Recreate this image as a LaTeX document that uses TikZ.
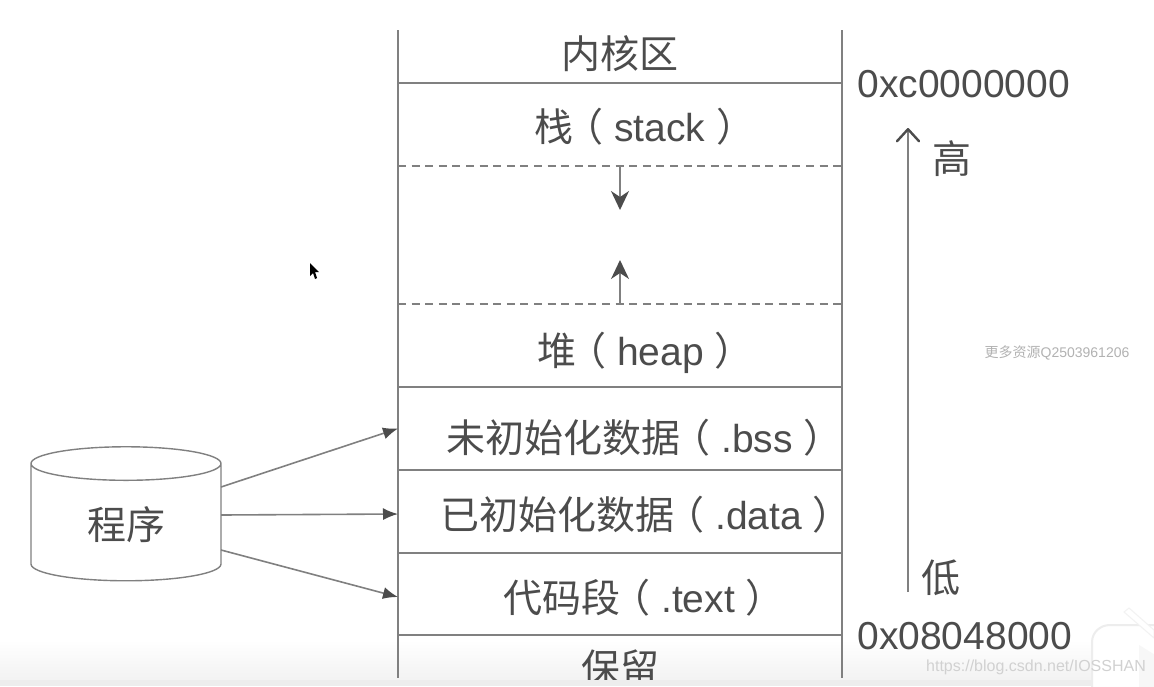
\documentclass[tikz,border=0pt]{standalone}
\usepackage{fontspec}
\setmainfont{Liberation Sans}
\newfontfamily\cjk{Noto Sans CJK SC}
\usetikzlibrary{arrows.meta,positioning,shapes.geometric}
\definecolor{ink}{HTML}{4C4C4C}
\definecolor{rule}{HTML}{808080}
\newcommand{\bigtxt}{\fontsize{19.5pt}{21pt}\selectfont}
\newcommand{\lpar}{\kern-4.5pt{\cjk （}}
\newcommand{\rpar}{{\cjk ）}}

\begin{document}
\begin{tikzpicture}[
  x=0.5pt, y=-0.5pt,
  font=\bigtxt,
  text=ink,
  seg/.style={
    minimum width=222pt,
    inner sep=0pt,
    outer sep=0pt
  },
  txt/.style={inner sep=0pt, text=ink},
  lefttxt/.style={txt, anchor=west},
  wall/.style={draw=rule, line width=0.8pt},
  gapline/.style={wall, dash pattern=on 4pt off 2.8pt},
  growth/.style={wall, -{Stealth[length=9.5pt, width=9pt, inset=3pt, color=ink]}},
  feed/.style={wall, -{Latex[length=7.5pt, width=6pt, color=ink]}},
  mainarrow/.style={wall, -{Straight Barb[length=6pt, width=11pt, line width=1.2pt, color=ink, round]}}
]
  \useasboundingbox (0,0) rectangle (1154,686);
  \fill[white] (0,0) rectangle (1154,686);
  \shade[top color=white, bottom color=black!5] (0,640) rectangle (1154,680);

  % memory layers
  \node[seg, minimum height=26.5pt] (kernel) at (620,56.5) {};
  \node[seg, minimum height=41.5pt, below=0pt of kernel] (stack) {};
  \node[seg, minimum height=69pt, below=0pt of stack] (gap) {};
  \node[seg, minimum height=41.5pt, below=0pt of gap] (heap) {};
  \node[seg, minimum height=41.5pt, below=0pt of heap] (bss) {};
  \node[seg, minimum height=41.5pt, below=0pt of bss] (data) {};
  \node[seg, minimum height=41pt, below=0pt of data] (code) {};
  \node[seg, minimum height=21.5pt, below=0pt of code] (resv) {};

  \node[txt] (kerneltxt) at ([yshift=1.5pt]kernel.center) {\cjk 内核区};
  \node[lefttxt] (stacktxt) at ([xshift=68pt,yshift=-1pt]stack.west) {{\cjk 栈}\lpar{} stack \rpar};
  \node[lefttxt] (heaptxt) at ([xshift=69.5pt,yshift=-3.5pt]heap.west) {{\cjk 堆}\lpar{} heap \rpar};
  \node[lefttxt] (bsstxt) at ([xshift=24pt,yshift=-4.5pt]bss.west) {{\cjk 未初始化数据}\lpar{} .bss \rpar};
  \node[lefttxt] (datatxt) at ([xshift=21pt,yshift=-1.5pt]data.west) {{\cjk 已初始化数据}\lpar{} .data \rpar};
  \node[lefttxt] (codetxt) at ([xshift=52.5pt,yshift=-2pt]code.west) {{\cjk 代码段}\lpar{} .text \rpar};
  \node[txt, anchor=north] (resvtxt) at ([yshift=-7pt]resv.north) {\cjk 保留};

  \draw[wall] (kernel.north west) -- (resv.south west);
  \draw[wall] (kernel.north east) -- (resv.south east);
  \draw[wall] (kernel.south west) -- (kernel.south east);
  \draw[gapline] (stack.south west) -- (stack.south east);
  \draw[gapline] (gap.south west) -- (gap.south east);
  \draw[wall] (heap.south west) -- (heap.south east);
  \draw[wall] (bss.south west) -- (bss.south east);
  \draw[wall] (data.south west) -- (data.south east);
  \draw[wall] (code.south west) -- (code.south east);

  \draw[growth] (gap.north) -- ++(0,44);
  \draw[growth] (gap.south) -- ++(0,-44);

  % program
  \node[cylinder, shape border rotate=90, draw=rule, line width=0.7pt, aspect=0.43,
    minimum width=95pt, text height=29pt, text depth=12.5pt, inner sep=0pt, outer sep=0pt] (prog) at (126,522.5) {\cjk 程序};

  \draw[feed] ([yshift=17.75pt]prog.east) -- (bss.west);
  \draw[feed] ([yshift=3.75pt]prog.east) -- ([yshift=-1.25pt]data.west);
  \draw[feed] ([yshift=-13.75pt]prog.east) -- ([yshift=-1.5pt]code.west);

  % addresses
  \node[lefttxt] (hi) at (857,84) {0xc0000000};
  \node[lefttxt] (lo) at (857,636) {0x08048000};
  \coordinate (arrowtop) at (908,128);
  \coordinate (arrowfoot) at (908,592);
  \draw[mainarrow] (arrowfoot) -- (arrowtop);
  \node[txt] (hilabel) at (952,159) {\cjk 高};
  \node[txt] (lolabel) at (941,578) {\cjk 低};

  % screen capture leftovers
  \fill[black!7] (0,680) rectangle (1154,686);
  \fill[black] (310,263) -- (310,276) -- (313,273) -- (315,279) -- (317,278) -- (315,272) -- (319,272) -- cycle;
  \node[txt, text=black!30, font=\fontsize{7pt}{8pt}\selectfont] (mark) at (1057,353) {{\cjk 更多资源}Q2503961206};
  \fill[white, draw=black!7, line width=1pt] (1092,690) -- (1092,642) to[out=90,in=180] (1110,625) -- (1160,625) -- (1160,690) -- cycle;
  \fill[black!3] (1139,690) -- (1139,645) -- (1160,658) -- (1160,690) -- cycle;
  \fill[white, draw=black!5, line width=0.5pt] (1124,612) -- (1129,608) -- (1154,630) -- (1154,638) -- cycle;
  \node[txt, text=black!18, font=\fontsize{8pt}{10pt}\selectfont] (site) at (1036,667) {https://blog.csdn.net/IOSSHAN};
\end{tikzpicture}
\end{document}
